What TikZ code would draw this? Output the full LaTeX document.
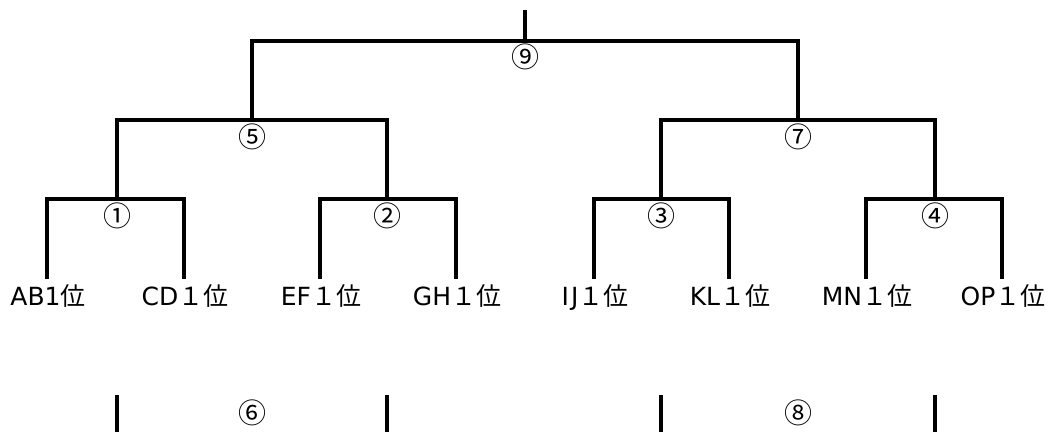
\documentclass[tikz,border=0pt]{standalone}
\usepackage{fontspec}
\setmainfont{DejaVu Sans}
\newfontfamily\jpfont{Noto Sans CJK JP}
\begin{document}
\begin{tikzpicture}[x=1pt,y=-1pt,
  bline/.style={line width=3.4pt, line join=miter, line cap=butt},
  num/.style={inner sep=0pt, font=\jpfont\fontsize{28}{28}\selectfont},
  leaf/.style={inner sep=0pt, anchor=base, font=\fontsize{25}{25}\selectfont}]
\useasboundingbox (0,0) rectangle (1051,432);
% junction coordinates
\coordinate (top) at (525,10);
\coordinate (j9) at (525,41);
\coordinate (j9L) at (252,41);
\coordinate (j9R) at (798,41);
\coordinate (j5) at (252,120);
\coordinate (j5L) at (117,120);
\coordinate (j5R) at (387,120);
\coordinate (j7) at (798,120);
\coordinate (j7L) at (661,120);
\coordinate (j7R) at (935,120);
\coordinate (j1) at (117,199);
\coordinate (j1L) at (47,199);
\coordinate (j1R) at (184,199);
\coordinate (j2) at (387,199);
\coordinate (j2L) at (320,199);
\coordinate (j2R) at (456,199);
\coordinate (j3) at (661,199);
\coordinate (j3L) at (594,199);
\coordinate (j3R) at (729,199);
\coordinate (j4) at (935,199);
\coordinate (j4L) at (866,199);
\coordinate (j4R) at (1002,199);
% leaf tops
\coordinate (tA) at (47,279);
\coordinate (tC) at (184,279);
\coordinate (tE) at (320,279);
\coordinate (tG) at (456,279);
\coordinate (tI) at (594,279);
\coordinate (tK) at (729,279);
\coordinate (tM) at (866,279);
\coordinate (tO) at (1002,279);
% leaf labels
\node[leaf] (AB) at (48,305) {AB1{\jpfont 位}};
\node[leaf] (CD) at (185,305) {CD{\jpfont １位}};
\node[leaf] (EF) at (321,305) {EF{\jpfont １位}};
\node[leaf] (GH) at (457,305) {GH{\jpfont １位}};
\node[leaf] (IJ) at (595,305) {I\kern2ptJ{\jpfont １位}};
\node[leaf] (KL) at (730,305) {KL{\jpfont １位}};
\node[leaf] (MN) at (867,305) {MN{\jpfont １位}};
\node[leaf] (OP) at (1003,305) {OP{\jpfont １位}};
% bracket lines
\draw[bline] (top) -- (j9);
\draw[bline] (j5) -- (j9L) -- (j9R) -- (j7);
\draw[bline] (j1) -- (j5L) -- (j5R) -- (j2);
\draw[bline] (j3) -- (j7L) -- (j7R) -- (j4);
\draw[bline] (tA) -- (j1L) -- (j1R) -- (tC);
\draw[bline] (tE) -- (j2L) -- (j2R) -- (tG);
\draw[bline] (tI) -- (j3L) -- (j3R) -- (tK);
\draw[bline] (tM) -- (j4L) -- (j4R) -- (tO);
% match numbers
\node[num] (n9) at (525,57) {⑨};
\node[num] (n5) at (252,137) {⑤};
\node[num] (n7) at (798,137) {⑦};
\node[num] (n1) at (117,216) {①};
\node[num] (n2) at (387,216) {②};
\node[num] (n3) at (661,216) {③};
\node[num] (n4) at (935,216) {④};
% bottom row
\coordinate (b1t) at (117,395);
\coordinate (b1b) at (117,432);
\coordinate (b2t) at (387,395);
\coordinate (b2b) at (387,432);
\coordinate (b3t) at (661,395);
\coordinate (b3b) at (661,432);
\coordinate (b4t) at (935,395);
\coordinate (b4b) at (935,432);
\draw[bline] (b1t) -- (b1b);
\draw[bline] (b2t) -- (b2b);
\draw[bline] (b3t) -- (b3b);
\draw[bline] (b4t) -- (b4b);
\node[num] (n6) at (252,413) {⑥};
\node[num] (n8) at (798,413) {⑧};
\end{tikzpicture}
\end{document}
